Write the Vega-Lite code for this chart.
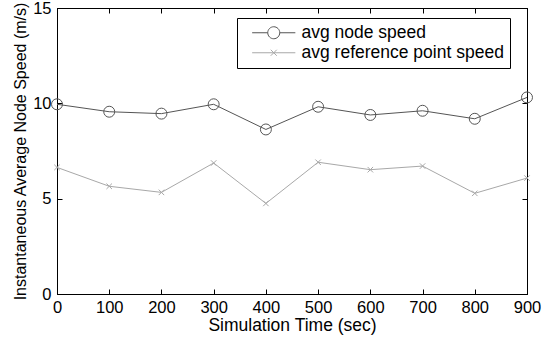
{
  "$schema": "https://vega.github.io/schema/vega-lite/v6.json",
  "width": 470,
  "height": 286,
  "autosize": "none",
  "padding": {"left": 57, "top": 8, "right": 18, "bottom": 48},
  "background": "white",
  "config": {
    "font": "Liberation Sans",
    "view": {"stroke": "black", "strokeWidth": 1},
    "axis": {"grid": false, "domainColor": "black", "tickColor": "black", "labelColor": "black", "titleColor": "black", "labelFont": "Liberation Sans", "titleFont": "Liberation Sans", "titleFontWeight": "normal"}
  },
  "data": {
    "values": [
      {"t": 0, "series": "avg node speed", "v": 9.95},
      {"t": 100, "series": "avg node speed", "v": 9.56},
      {"t": 200, "series": "avg node speed", "v": 9.46},
      {"t": 300, "series": "avg node speed", "v": 9.95},
      {"t": 400, "series": "avg node speed", "v": 8.63},
      {"t": 500, "series": "avg node speed", "v": 9.82},
      {"t": 600, "series": "avg node speed", "v": 9.39},
      {"t": 700, "series": "avg node speed", "v": 9.61},
      {"t": 800, "series": "avg node speed", "v": 9.19},
      {"t": 900, "series": "avg node speed", "v": 10.31},
      {"t": 0, "series": "avg reference point speed", "v": 6.64},
      {"t": 100, "series": "avg reference point speed", "v": 5.65},
      {"t": 200, "series": "avg reference point speed", "v": 5.33},
      {"t": 300, "series": "avg reference point speed", "v": 6.87},
      {"t": 400, "series": "avg reference point speed", "v": 4.75},
      {"t": 500, "series": "avg reference point speed", "v": 6.91},
      {"t": 600, "series": "avg reference point speed", "v": 6.52},
      {"t": 700, "series": "avg reference point speed", "v": 6.71},
      {"t": 800, "series": "avg reference point speed", "v": 5.28},
      {"t": 900, "series": "avg reference point speed", "v": 6.08}
    ]
  },
  "resolve": {"axis": {"x": "independent", "y": "independent"}},
  "layer": [
    {
      "mark": {"type": "line", "strokeWidth": 1},
      "encoding": {
        "x": {"field": "t", "type": "quantitative", "scale": {"domain": [0, 900], "nice": false},
          "axis": {"orient": "bottom", "values": [0,100,200,300,400,500,600,700,800,900], "tickSize": -5, "labelPadding": 10, "labelFontSize": 16.5, "title": "Simulation Time (sec)", "titleFontSize": 17.5, "titlePadding": 1, "labelFlush": false}},
        "y": {"field": "v", "type": "quantitative", "scale": {"domain": [0, 15], "nice": false},
          "axis": {"orient": "left", "values": [0, 5, 10, 15], "tickSize": -5, "labelPadding": 11, "labelFontSize": 16.5, "title": "Instantaneous Average Node Speed (m/s)", "titleFontSize": 16, "titlePadding": 4}},
        "color": {"field": "series", "type": "nominal", "scale": {"domain": ["avg node speed", "avg reference point speed"], "range": ["#555555", "#a8a8a8"]},
          "legend": {"orient": "none", "legendX": 180, "legendY": 10, "title": null, "strokeColor": "black", "fillColor": "white", "padding": 6, "labelFontSize": 17.5, "labelLimit": 400, "labelFont": "Liberation Sans", "labelColor": "black", "symbolSize": 144, "symbolStrokeWidth": 1, "labelOffset": 19, "symbolOffset": 22, "rowPadding": 1, "columnPadding": 20,
            "encode": {"symbols": {"update": {"shape": {"signal": "datum.value === 'avg node speed' ? 'M-1,0A1,1 0 1,1 1,0A1,1 0 1,1 -1,0M-3.6,0L-1,0M1,0L3.6,0' : 'M-0.5,-0.5L0.5,0.5M-0.5,0.5L0.5,-0.5M-3.6,0L3.6,0'"}, "fill": {"value": "transparent"}}}}}}
      }
    },
    {
      "transform": [{"filter": "datum.series === 'avg node speed'"}],
      "mark": {"type": "point", "shape": "circle", "filled": false, "strokeWidth": 1, "size": 120, "opacity": 1},
      "encoding": {
        "x": {"field": "t", "type": "quantitative", "axis": {"orient": "top", "values": [0,100,200,300,400,500,600,700,800,900], "tickSize": -5, "labels": false, "title": null}},
        "y": {"field": "v", "type": "quantitative", "axis": {"orient": "right", "values": [0, 5, 10, 15], "tickSize": -5, "labels": false, "title": null}},
        "color": {"field": "series", "type": "nominal"}
      }
    },
    {
      "transform": [{"filter": "datum.series === 'avg reference point speed'"}],
      "mark": {"type": "point", "shape": "M-0.5,-0.5L0.5,0.5M-0.5,0.5L0.5,-0.5", "filled": false, "strokeWidth": 1, "size": 120, "opacity": 1},
      "encoding": {
        "x": {"field": "t", "type": "quantitative", "axis": null},
        "y": {"field": "v", "type": "quantitative", "axis": null},
        "color": {"field": "series", "type": "nominal"}
      }
    }
  ]
}
